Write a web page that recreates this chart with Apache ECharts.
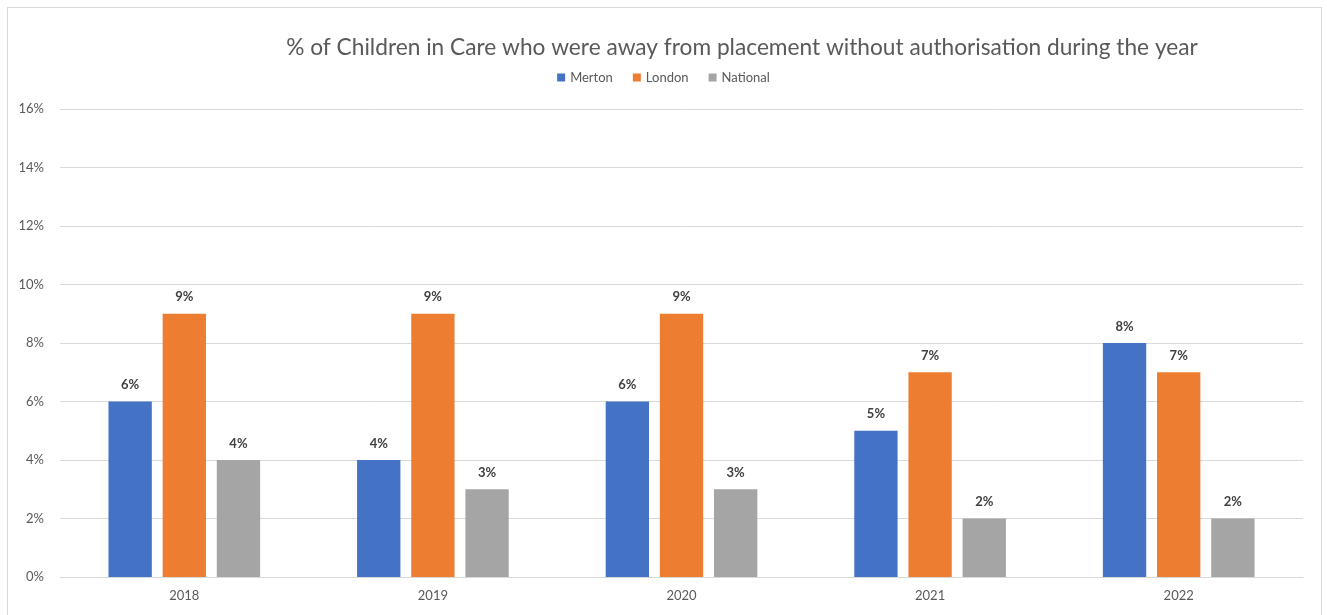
<!DOCTYPE html>
<html><head><meta charset="utf-8">
<script src="https://cdn.jsdelivr.net/npm/echarts@6/dist/echarts.min.js"></script>
<style>html,body{margin:0;padding:0;background:#fff;}#c{width:1327px;height:615px;}
#frame{position:absolute;left:7px;top:7px;width:1315px;height:640px;border:1px solid #d9d9d9;box-sizing:border-box;pointer-events:none;}</style>
</head><body><div id="c"></div><div id="frame"></div>
<script>
const title = '% of Children in Care who were away from placement without authorisation during the year';
const categories = ['2018','2019','2020','2021','2022'];
const merton = [6,4,6,5,8];
const london = [9,9,9,7,7];
const national = [4,3,3,2,2];
const seriesNames = ['Merton','London','National'];
const colors = ['#4472C4','#ED7D31','#A5A5A5'];
const font = 'Lato, "Open Sans", sans-serif';
const chart = echarts.init(document.getElementById('c'));
const lbl = {show:true, position:'top', distance:10, formatter:p=>p.value+'%', color:'#404040', fontWeight:'bold', fontSize:13, fontFamily:font};
chart.setOption({
  animation:false,
  title:{text:title, left:737, textAlign:'center', top:31, textStyle:{fontFamily:font, fontSize:22.7, fontWeight:'normal', color:'#595959'}},
  legend:{data:seriesNames, top:66, left:'center', itemWidth:8, itemHeight:8, itemGap:20, icon:'rect', textStyle:{fontFamily:font, fontSize:13, color:'#595959'}},
  grid:{left:60, right:24, top:109, bottom:38, containLabel:false},
  xAxis:{type:'category', data:categories, axisLine:{lineStyle:{color:'#d9d9d9'}}, axisTick:{show:false}, axisLabel:{color:'#595959', fontFamily:font, fontSize:13, margin:12}},
  yAxis:{type:'value', min:0, max:16, interval:2, axisLabel:{formatter:'{value}%', color:'#595959', fontFamily:font, fontSize:13, margin:16}, splitLine:{lineStyle:{color:'#d9d9d9'}}, axisLine:{show:false}, axisTick:{show:false}},
  series:[
    {name:seriesNames[0], type:'bar', data:merton, itemStyle:{color:colors[0]}, barGap:'25%', barCategoryGap:'39%', label:lbl},
    {name:seriesNames[1], type:'bar', data:london, itemStyle:{color:colors[1]}, label:lbl},
    {name:seriesNames[2], type:'bar', data:national, itemStyle:{color:colors[2]}, label:lbl}
  ]
});
</script></body></html>
